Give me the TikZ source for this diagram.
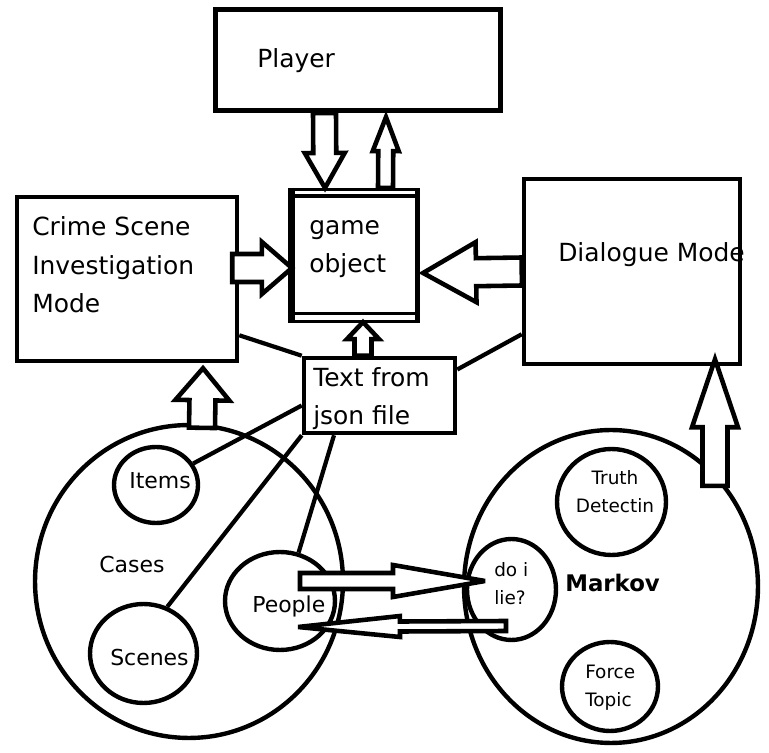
\documentclass[tikz,border=0pt]{standalone}
\usepackage{fontspec}
\setmainfont{DejaVu Sans}
\usetikzlibrary{shapes.geometric,calc}

% block arrow: tail, tip, shaft half width, head half width, head length
\newcommand{\blockarrow}[5]{%
  \coordinate (ba-s) at (#1);
  \coordinate (ba-t) at (#2);
  \coordinate (ba-h) at ($(ba-t)!#5!(ba-s)$);
  \draw[blockarr] ($(ba-s)!#3!90:(ba-t)$) -- ($(ba-h)!#3!-90:(ba-s)$)
    -- ($(ba-h)!#4!-90:(ba-s)$) -- (ba-t) -- ($(ba-h)!#4!90:(ba-s)$)
    -- ($(ba-h)!#3!90:(ba-s)$) -- ($(ba-s)!#3!-90:(ba-t)$) -- cycle;
}

\begin{document}
\begin{tikzpicture}[x=0.02cm,y=-0.02cm,line width=2.6pt,
  modebox/.style={draw,inner sep=0pt},
  bubble/.style={draw,ellipse,line width=2.5pt,inner sep=0pt},
  link/.style={line width=2.4pt},
  blockarr/.style={draw,fill=white,line width=2.6pt,line join=miter,miter limit=3.5},
  bigtxt/.style={anchor=base west,inner sep=0pt,align=left,font=\fontsize{14.2}{22}\selectfont},
  midtxt/.style={anchor=base west,inner sep=0pt,font=\fontsize{12.5}{15}\selectfont},
  smalltxt/.style={anchor=base west,inner sep=0pt,align=left,font=\fontsize{10.5}{16}\selectfont}]
\useasboundingbox (0,0) rectangle (769,753);

% boxes
\node[modebox,line width=3pt,minimum width=5.7cm,minimum height=2.02cm] (player) at (358,60) {};
\node[modebox,minimum width=4.4cm,minimum height=3.28cm] (crime) at (127,279) {};
\node[modebox,minimum width=4.32cm,minimum height=3.7cm] (dialogue) at (632,271.5) {};
\node[modebox,minimum width=3.02cm,minimum height=1.5cm] (json) at (379.5,395.5) {};
\node[modebox,line width=1.8pt,minimum width=2.58cm,minimum height=2.64cm] (game) at (354,255.5) {};
\fill (game.north west) rectangle ([shift={(7.5,0)}]game.south west);
\fill ([shift={(-5.5,0)}]game.north east) rectangle (game.south east);
\draw[line width=1.8pt] ([shift={(0,8)}]game.north west) -- ([shift={(0,8)}]game.north east);
\draw[line width=2.2pt] ([shift={(0,-9.5)}]game.south west) -- ([shift={(0,-9.5)}]game.south east);

% circles
\node[bubble,minimum width=6.16cm,minimum height=6.26cm] (cases) at (189,581.5) {};
\node[bubble,minimum width=1.68cm,minimum height=1.52cm] (items) at (156,485) {};
\node[bubble,minimum width=2.14cm,minimum height=1.98cm] (scenes) at (143.5,653.5) {};
\node[bubble,minimum width=2.2cm,minimum height=1.96cm] (people) at (280,601) {};
\node[bubble,minimum width=5.88cm,minimum height=6.26cm] (markov) at (611,586.5) {};
\node[bubble,minimum width=2.18cm,minimum height=2.12cm] (truth) at (611.5,502) {};
\node[bubble,minimum width=1.78cm,minimum height=2.02cm] (lie) at (511.5,589.5) {};
\node[bubble,minimum width=1.92cm,minimum height=1.78cm] (force) at (610,686.5) {};

% plain links to the json box
\draw[link] ([shift={(0,-28)}]crime.south east) -- (json.north west);
\draw[link] ([shift={(0,-32)}]dialogue.south west) -- ([shift={(0,-26)}]json.east);
\draw[link] ([shift={(0,10)}]json.west) -- (items.30);
\draw[link] (json.south west) -- (scenes.63);
\draw[link] ([shift={(-45.5,0)}]json.south) -- (people.69);

% block arrows
\blockarrow{[shift={(-33.5,0)}]player.south}{[shift={(-29,0)}]game.north}{0.23cm}{0.4cm}{0.7cm}
\blockarrow{[shift={(31.5,0)}]game.north}{[shift={(28,4)}]player.south}{0.15cm}{0.26cm}{0.68cm}
\blockarrow{[shift={(-7,-11)}]crime.east}{[shift={(4,12.5)}]game.west}{0.28cm}{0.52cm}{0.6cm}
\blockarrow{dialogue.west}{[shift={(3,17.5)}]game.east}{0.28cm}{0.6cm}{1.06cm}
\blockarrow{[shift={(-16.5,0)}]json.north}{[shift={(9,-1)}]game.south}{0.17cm}{0.32cm}{0.34cm}
\blockarrow{[shift={(13,5)}]cases.north}{[shift={(76,5)}]crime.south}{0.26cm}{0.54cm}{0.64cm}
\blockarrow{[shift={(104,58)}]markov.north}{[shift={(83,-7)}]dialogue.south}{0.25cm}{0.46cm}{1.36cm}
\blockarrow{[shift={(20,-20)}]people.center}{[shift={(-26.5,-8.5)}]lie.center}{0.16cm}{0.32cm}{1.84cm}
\blockarrow{[shift={(-5.5,36.5)}]lie.center}{[shift={(18,26)}]people.center}{0.1cm}{0.21cm}{2.04cm}

% texts (a node of several lines sits on its last baseline)
\node[bigtxt] (playertxt) at (255,68) {Player};
\node[bigtxt] (crimetxt) at (30,313) {Crime Scene\\Investigation\\Mode};
\node[bigtxt] (gametxt) at (307,273) {game\\object};
\node[bigtxt] (dialoguetxt) at (556,262) {Dialogue Mode};
\node[bigtxt] (jsontxt) at (311,425) {Text from\\json file};
\node[midtxt] (itemstxt) at (127,489) {Items};
\node[midtxt] (casestxt) at (97,573) {Cases};
\node[midtxt] (scenestxt) at (108,666) {Scenes};
\node[midtxt] (peopletxt) at (250,613) {People};
\node[smalltxt,align=center,anchor=base] (truthtxt) at (615,513) {Truth\\Detectin};
\node[smalltxt] (lietxt) at (492,605) {do i\\lie?};
\node[smalltxt] (forcetxt) at (583,707) {Force\\Topic};
\node[anchor=base west,inner sep=0pt,font=\fontsize{13}{15}\selectfont\bfseries] (markovtxt) at (563,592) {Markov};
\end{tikzpicture}
\end{document}
